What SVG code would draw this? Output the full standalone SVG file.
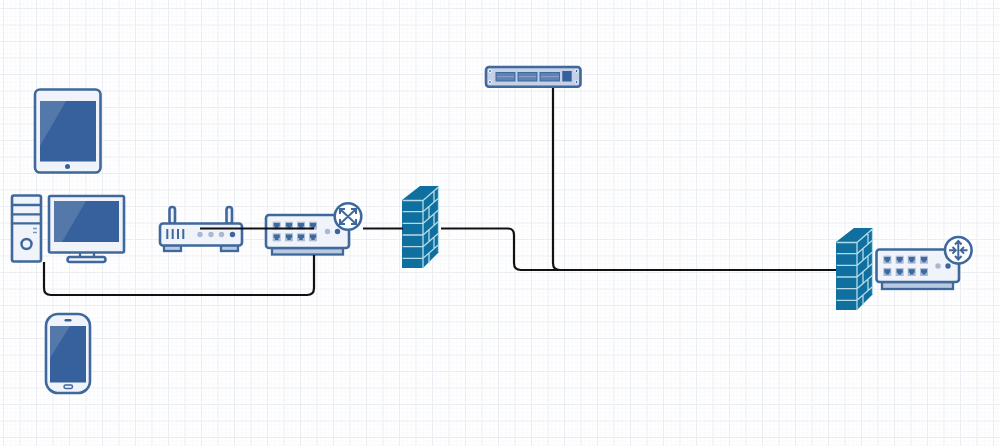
<svg xmlns="http://www.w3.org/2000/svg" width="1000" height="446" viewBox="0 0 1000 446">
<defs>
<pattern id="grid" width="16.5" height="16.5" patternUnits="userSpaceOnUse" x="3" y="8"><path d="M4.125 0V16.500M8.250 0V16.500M12.375 0V16.500M0 4.125H16.500M0 8.250H16.500M0 12.375H16.500" fill="none" stroke="#f8f9fb" stroke-width=".8"/><path d="M.5 0V16.500M0 .5H16.500" fill="none" stroke="#ecedf3" stroke-width="1"/></pattern>
<g id="port"><rect width="8" height="8" fill="#a9bdd9"/><path d="M1 1.200h6v3.600h-1.300v1.800h-3.400v-1.800h-1.300z" fill="#3f689c"/></g>
<g id="brick">
<path d="M0 14L18 0H37V66L21 82H0z" fill="#0f6f9e"/>
<path d="M21 14.500V82M21 14.500L36.500 1V66M.6 25.700H21M.6 37.400H21M.6 49H21M.6 60.700H21M.6 72.300H21M21 25.700L37 11.700M21 37.400L37 23.400M21 49L37 35M21 60.700L37 46.700M21 72.300L37 58.300M32 4.400V16M27 20.500V32.200M32 27.800V39.400M27 43.800V55.500M32 51V62.700M27 67V77M.6 14.500H21" fill="none" stroke="#b5dbe9" stroke-width="1.300"/>
</g>
</defs>
<style>
.o{stroke:#3f689c;stroke-width:2.600;fill:#f0f3f9;stroke-linejoin:round}
.s{fill:#36619c}
.g{fill:#5478aa}
.c{fill:none;stroke:#111;stroke-width:2.200}
.t{stroke:#3f689c;stroke-width:2.300;fill:none}
.b{fill:#b9c9e0;stroke:#3f689c;stroke-width:2.300}
.slot{fill:#5f82b3;stroke:#3f689c;stroke-width:1}
.ic{fill:none;stroke:#3f689c;stroke-width:2}
</style>
<rect width="1000" height="446" fill="#fff"/>
<rect width="1000" height="446" fill="url(#grid)"/>
<g id="tablet">
<rect class="o" x="35" y="89.500" width="65.500" height="83" rx="5"/>
<rect class="s" x="40" y="101" width="56" height="60.500"/>
<path class="g" d="M40 101H66L40 146z"/>
<circle class="s" cx="67.500" cy="166.500" r="2.500"/>
</g>
<g id="tower">
<rect class="o" x="12" y="195.500" width="29" height="66" rx="2"/>
<path class="t" d="M12 205H41M12 214.300H41M12 223.300H41"/>
<circle cx="26.500" cy="244" r="5" fill="none" stroke="#3f689c" stroke-width="2.500"/>
<path d="M33 228.500h4M33 232.500h4" stroke="#7d97bd" stroke-width="1.600"/>
</g>
<g id="monitor">
<rect class="o" x="49" y="196" width="75" height="56.500" rx="1.500"/>
<rect class="s" x="54" y="201" width="65" height="41"/>
<path class="g" d="M54 201H86L62 242H54z"/>
<path class="t" d="M80 253V257M94 253V257"/>
<rect class="o" x="67.500" y="257" width="38" height="5" rx="2.500"/>
</g>
<g id="phone">
<rect class="o" x="46" y="314" width="44" height="79" rx="12"/>
<rect class="s" x="50" y="326" width="36" height="56.500"/>
<path class="g" d="M50 326H70L50 358z"/>
<rect class="s" x="64.500" y="319" width="7" height="2.400" rx="1.200"/>
<rect x="64" y="385" width="8.500" height="3.400" rx="1.700" fill="none" stroke="#3f689c" stroke-width="1.500"/>
</g>
<g id="wifi-router">
<rect class="o" x="169.500" y="207" width="5.500" height="17" rx="2.700"/>
<rect class="o" x="226.500" y="207" width="5.500" height="17" rx="2.700"/>
<rect class="b" x="164" y="245" width="17" height="6"/>
<rect class="b" x="221" y="245" width="17" height="6"/>
<rect class="o" x="160" y="223.500" width="82" height="22" rx="3"/>
<path d="M167.300 229v10M172.700 229v10M178 229v10M183.300 229v10" stroke="#3f689c" stroke-width="2"/>
<circle cx="200" cy="234.500" r="2.700" fill="#a9b9d2"/><circle cx="211" cy="234.500" r="2.700" fill="#a9b9d2"/><circle cx="221.500" cy="234.500" r="2.700" fill="#a9b9d2"/><circle cx="232.500" cy="234.500" r="2.700" fill="#3a659f"/>
</g>
<g id="router">
<rect class="b" x="272" y="248" width="71" height="6.500"/>
<rect class="o" x="266" y="215" width="83" height="33" rx="3"/>
<use href="#port" x="272.700" y="221.700"/><use href="#port" x="285" y="221.700"/><use href="#port" x="297" y="221.700"/><use href="#port" x="309" y="221.700"/>
<use href="#port" x="272.700" y="233.300"/><use href="#port" x="285" y="233.300"/><use href="#port" x="297" y="233.300"/><use href="#port" x="309" y="233.300"/>
<circle cx="327.500" cy="231.500" r="2.700" fill="#a9b9d2"/><circle cx="337.500" cy="231.500" r="2.700" fill="#3a659f"/>
<circle cx="348" cy="216.500" r="13.300" fill="#fff" stroke="#3f689c" stroke-width="2.600"/>
<path class="ic" d="M340.500 209.500L355.500 223.500M355.500 209.500L340.500 223.500M340 214v-5h5M356 214v-5h-5M340 219v5h5M356 219v5h-5"/>
</g>
<use id="firewall-1" href="#brick" x="402" y="186"/>
<g id="server">
<rect x="486" y="67" width="94.500" height="19.800" rx="3" fill="#c4d1e6" stroke="#3f689c" stroke-width="2.600"/>
<rect class="slot" x="496" y="72.500" width="19" height="8.500"/>
<rect class="slot" x="518" y="72.500" width="19" height="8.500"/>
<rect class="slot" x="540" y="72.500" width="19.500" height="8.500"/>
<path d="M497 76.700h17M519 76.700h17M541 76.700h18" stroke="#8ea6c9" stroke-width="1"/>
<rect class="s" x="562.300" y="71" width="9.400" height="10.500"/>
<g fill="#3a659f" stroke="#fff" stroke-width="1"><circle cx="490" cy="71" r="1.500"/><circle cx="490" cy="82" r="1.500"/><circle cx="576.500" cy="71" r="1.500"/><circle cx="576.500" cy="82" r="1.500"/></g>
</g>
<use id="firewall-2" href="#brick" x="836" y="228"/>
<g id="wan-router">
<rect class="b" x="882" y="282" width="71" height="7"/>
<rect class="o" x="876.500" y="249.500" width="82.500" height="32.500" rx="3"/>
<use href="#port" x="883.300" y="255.700"/><use href="#port" x="895.700" y="255.700"/><use href="#port" x="907.700" y="255.700"/><use href="#port" x="920" y="255.700"/>
<use href="#port" x="883.300" y="268"/><use href="#port" x="895.700" y="268"/><use href="#port" x="907.700" y="268"/><use href="#port" x="920" y="268"/>
<circle cx="938" cy="266" r="2.700" fill="#a9b9d2"/><circle cx="948" cy="266" r="2.700" fill="#3a659f"/>
<circle cx="958.300" cy="250.300" r="13.300" fill="#fff" stroke="#3f689c" stroke-width="2.600"/>
<path class="ic" d="M958.300 241v19M949 250.300h6.500M967.500 250.300h-6.500M955 244.500l3.300-3.500 3.300 3.500M955 256l3.300 3.500 3.300-3.500M952.500 247l3.300 3.300-3.300 3.300M964 247l-3.300 3.300 3.300 3.300"/>
</g>
<g id="connectors">
<path class="c" d="M44 262V288Q44 295 51 295H307Q314 295 314 288V255"/>
<path class="c" d="M200 228.500H314"/>
<path class="c" d="M363 228.500H403"/>
<path class="c" d="M441 228.500H508Q514 228.500 514 235V263Q514 270 521 270H836"/>
<path class="c" d="M553 88V263Q553 270 560 270"/>
</g>
</svg>
